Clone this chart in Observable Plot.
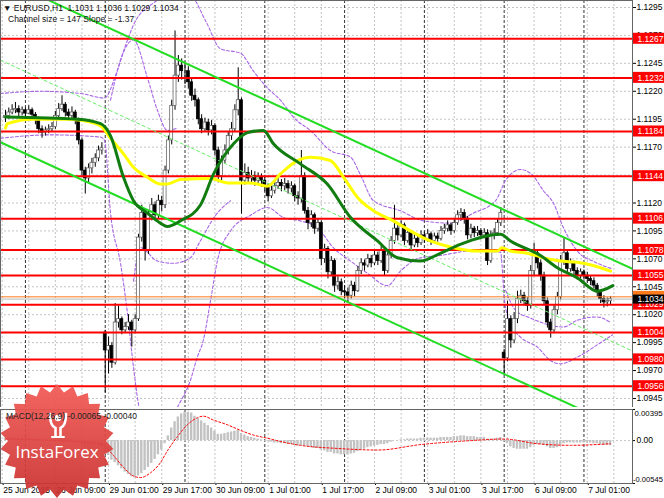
<!DOCTYPE html>
<html><head><meta charset="utf-8">
<script src="https://cdn.jsdelivr.net/npm/d3@7"></script>
<script src="https://cdn.jsdelivr.net/npm/@observablehq/plot@0.6"></script>
<style>
body{margin:0;background:#fff;}
#wrap{position:relative;width:664px;height:498px;overflow:hidden;font-family:"Liberation Sans",Arial,sans-serif;background:#fff;}
#price{position:absolute;left:0;top:0}
#macd{position:absolute;left:0;top:407px}
.hdr{position:absolute;font-size:8.5px;color:#111;white-space:pre;}
</style></head><body><div id="wrap"><div id="price"></div><div id="macd"></div>
<div class="hdr" style="left:3px;top:3px">▼ EURUSD,H1  1.1031 1.1036 1.1029 1.1034</div>
<div class="hdr" style="left:8px;top:14px">Channel size = 147 Slope = -1.37</div>
</div>
<script>
// ---------- DATA ----------
const closes = [
1.1198,1.1201,1.1203,1.1204,1.1201,1.1203,1.1200,1.1203,1.1199,1.1195,
1.1186,1.1183,1.1185,1.1186,1.1188,1.1198,1.1204,1.1208,1.1201,1.1198,
1.1201,1.1194,1.1176,1.1149,1.1142,1.1151,1.1156,1.1160,1.1167,1.1169,
1.0988,1.0992,1.0977,1.1013,1.1016,1.1006,1.1009,1.1013,1.1006,1.1016,
1.1089,1.1111,1.1077,1.1109,1.1118,1.1109,1.1122,1.1118,1.1149,1.1176,
1.1207,1.1234,1.1243,1.1238,1.1238,1.1228,1.1216,1.1212,1.1195,1.1186,
1.1192,1.1185,1.1189,1.1167,1.1144,1.1158,1.1167,1.1180,1.1186,1.1203,
1.1212,1.1140,1.1147,1.1142,1.1144,1.1140,1.1143,1.1140,1.1135,1.1126,
1.1131,1.1135,1.1138,1.1135,1.1137,1.1133,1.1135,1.1126,1.1124,1.1144,
1.1113,1.1102,1.1109,1.1097,1.1102,1.1070,1.1079,1.1058,1.1068,1.1046,
1.1049,1.1041,1.1040,1.1037,1.1046,1.1041,1.1059,1.1066,1.1064,1.1070,
1.1066,1.1073,1.1068,1.1077,1.1059,1.1073,1.1086,1.1097,1.1091,1.1100,
1.1086,1.1093,1.1082,1.1088,1.1084,1.1091,1.1088,1.1092,1.1086,1.1090,
1.1088,1.1095,1.1097,1.1100,1.1095,1.1102,1.1109,1.1111,1.1106,1.1091,
1.1097,1.1093,1.1095,1.1091,1.1093,1.1068,1.1091,1.1093,1.1102,1.1111,
1.0981,1.1016,1.0997,1.1016,1.1034,1.1037,1.1032,1.1028,1.1059,1.1075,
1.1066,1.1055,1.1032,1.1013,1.1006,1.1024,1.1036,1.1068,1.1075,1.1061,
1.1066,1.1059,1.1055,1.1058,1.1055,1.1052,1.1050,1.1046,1.1040,1.1034,
1.1031,1.1032,1.1034];
const highs = [
1.1203,1.1205,1.1208,1.1210,1.1207,1.1206,1.1205,1.1207,1.1205,1.1201,
1.1197,1.1189,1.1188,1.1190,1.1192,1.1202,1.1209,1.1216,1.1210,1.1204,
1.1206,1.1203,1.1196,1.1178,1.1152,1.1155,1.1160,1.1164,1.1171,1.1174,
1.1006,1.1000,1.0995,1.1030,1.1028,1.1018,1.1013,1.1020,1.1015,1.1020,
1.1092,1.1118,1.1112,1.1113,1.1124,1.1121,1.1127,1.1126,1.1153,1.1180,
1.1212,1.1274,1.1252,1.1249,1.1246,1.1242,1.1231,1.1222,1.1214,1.1199,
1.1196,1.1195,1.1194,1.1191,1.1170,1.1162,1.1172,1.1184,1.1192,1.1208,
1.1241,1.1214,1.1155,1.1152,1.1149,1.1148,1.1147,1.1146,1.1143,1.1137,
1.1135,1.1139,1.1143,1.1141,1.1142,1.1140,1.1139,1.1137,1.1130,1.1167,
1.1147,1.1116,1.1113,1.1111,1.1106,1.1104,1.1083,1.1081,1.1072,1.1070,
1.1054,1.1052,1.1046,1.1044,1.1050,1.1049,1.1063,1.1070,1.1069,1.1074,
1.1073,1.1077,1.1076,1.1081,1.1080,1.1076,1.1090,1.1118,1.1100,1.1104,
1.1102,1.1097,1.1095,1.1092,1.1090,1.1095,1.1094,1.1096,1.1094,1.1093,
1.1093,1.1099,1.1101,1.1104,1.1102,1.1106,1.1113,1.1115,1.1114,1.1108,
1.1101,1.1099,1.1099,1.1097,1.1097,1.1096,1.1095,1.1097,1.1106,1.1116,
1.0989,1.1032,1.1019,1.1022,1.1041,1.1042,1.1040,1.1035,1.1064,1.1084,
1.1078,1.1069,1.1058,1.1035,1.1016,1.1028,1.1040,1.1073,1.1089,1.1078,
1.1070,1.1068,1.1062,1.1061,1.1060,1.1058,1.1055,1.1053,1.1048,1.1042,
1.1037,1.1035,1.1036];
const lows = [
1.1192,1.1195,1.1199,1.1200,1.1197,1.1198,1.1196,1.1199,1.1195,1.1190,
1.1182,1.1178,1.1180,1.1182,1.1184,1.1186,1.1196,1.1202,1.1197,1.1194,
1.1195,1.1190,1.1172,1.1144,1.1128,1.1138,1.1146,1.1152,1.1157,1.1163,
1.0950,1.0967,1.0972,1.0975,1.1008,1.1002,1.1003,1.1006,1.0991,1.1003,
1.1014,1.1085,1.1068,1.1074,1.1104,1.1104,1.1106,1.1112,1.1115,1.1146,
1.1172,1.1203,1.1228,1.1230,1.1226,1.1222,1.1211,1.1206,1.1190,1.1182,
1.1183,1.1180,1.1181,1.1162,1.1138,1.1140,1.1155,1.1163,1.1176,1.1183,
1.1198,1.1110,1.1136,1.1137,1.1138,1.1135,1.1136,1.1134,1.1130,1.1121,
1.1124,1.1128,1.1132,1.1130,1.1131,1.1128,1.1129,1.1121,1.1118,1.1120,
1.1110,1.1096,1.1098,1.1092,1.1094,1.1064,1.1066,1.1052,1.1055,1.1040,
1.1042,1.1037,1.1034,1.1030,1.1034,1.1036,1.1040,1.1056,1.1059,1.1062,
1.1062,1.1064,1.1064,1.1066,1.1055,1.1057,1.1070,1.1083,1.1086,1.1089,
1.1082,1.1084,1.1078,1.1080,1.1080,1.1082,1.1084,1.1085,1.1082,1.1084,
1.1085,1.1086,1.1092,1.1094,1.1091,1.1093,1.1100,1.1104,1.1101,1.1087,
1.1088,1.1089,1.1090,1.1087,1.1088,1.1064,1.1066,1.1087,1.1090,1.1099,
1.0966,1.0978,1.0990,1.0994,1.1012,1.1030,1.1028,1.1023,1.1025,1.1055,
1.1061,1.1050,1.1028,1.1008,1.0999,1.1003,1.1020,1.1033,1.1064,1.1057,
1.1058,1.1055,1.1051,1.1052,1.1051,1.1048,1.1046,1.1043,1.1036,1.1030,
1.1026,1.1027,1.1029];
const firstOpen = 1.1196;
const gapBars = [30, 150];          // Monday opens (29 Jun, 6 Jul)
const gapOpens = [1.1004, 1.0986];

// moving averages: [bar, price]
const greenMA = [[0,1.1197],[21.7,1.1195],[28.6,1.1191],[31.6,1.1180],[35.5,1.1143],[38.5,1.1122],[42.7,1.1111],[46.6,1.1102],[48.7,1.1099],[52.6,1.1104],[58.6,1.1118],[62.6,1.1146],[68.6,1.1173],[72.8,1.1183],[77.6,1.1185],[80.6,1.1173],[88.7,1.1155],[96.8,1.1137],[103.8,1.1107],[111.9,1.1086],[117.9,1.1071],[124.8,1.1068],[130.8,1.1075],[136.8,1.1083],[148.9,1.1092],[151.9,1.1086],[160.9,1.1073],[166,1.1062],[172,1.1053],[178,1.1041],[182.7,1.1046]];
const yellowMA = [[0,1.1187],[0.6,1.1191],[8.4,1.1195],[18.6,1.1195],[22.6,1.1194],[28.6,1.1189],[31.6,1.1178],[35.5,1.1164],[38.5,1.1152],[42.7,1.1143],[46.6,1.1137],[48.7,1.1137],[52.6,1.1141],[61.7,1.1142],[66.8,1.1138],[73.7,1.1138],[78.8,1.1135],[82.7,1.1146],[87.8,1.1158],[91.7,1.1161],[97.7,1.1158],[101.7,1.1143],[105.9,1.1125],[110.7,1.1113],[116.7,1.1104],[121.8,1.1095],[127.8,1.1086],[134.7,1.1080],[142,1.1077],[148,1.1077],[149.3,1.1080],[151.9,1.1077],[157,1.1075],[161.8,1.1071],[166.9,1.1068],[172,1.1067],[176.8,1.1064],[182,1.1059]];
// dashed violet envelopes: [bar, price]
const bandUpper = [[-1.5,1.1218],[10.5,1.1220],[22.6,1.1218],[29.8,1.1214],[33.1,1.1234],[36.1,1.1261],[39.1,1.1283],[43.6,1.1297],[49.6,1.1305],[55.6,1.1305],[60.2,1.1283],[64.7,1.1258],[70.7,1.1254],[74.6,1.1238],[78.8,1.1223],[82.7,1.1212],[87.2,1.1195],[91.7,1.1185],[97.7,1.1167],[103.8,1.1161],[106.8,1.1145],[110.7,1.1122],[118.8,1.1113],[125.7,1.1104],[133.8,1.1102],[140.8,1.1111],[147.4,1.1122],[150.4,1.1140],[154.9,1.1150],[158.5,1.1145],[161.8,1.1131],[164.8,1.1120],[167.8,1.1098],[172,1.1077],[177.4,1.1067],[182.6,1.1061]];
const bandLower = [[-1.5,1.1178],[13.5,1.1181],[28.6,1.1179],[29.8,1.1176],[31.6,1.1111],[34.6,1.1066],[36.7,1.1021],[38.5,1.0973],[40.6,1.0932],[46.6,1.0907],[51.7,1.0937],[55.6,1.0961],[57.7,1.0982],[59.5,1.0997],[61.7,1.1033],[63.8,1.1069],[67.7,1.1095],[73.7,1.1109],[78.8,1.1116],[83.6,1.1107],[88.7,1.1104],[93.8,1.1098],[98.6,1.1080],[103.8,1.1068],[108.9,1.1057],[114.9,1.1046],[118.8,1.1059],[124.8,1.1071],[130.8,1.1073],[139.8,1.1077],[148.9,1.1076],[150.1,1.1033],[151.9,1.1012],[154.9,1.1000],[160,1.0991],[163.9,1.0979],[166.9,1.0976],[172,1.0982],[178,1.0993],[182.6,1.1002]];
const band2Upper = [[31.6,1.1212],[34.6,1.1248],[38.5,1.1266],[42.7,1.1232],[45.7,1.1203],[48.7,1.1185],[51.7,1.1187]];
const band2Lower = [[38.5,1.1050],[40.6,1.1080],[45.7,1.1068],[50.5,1.1066],[55.6,1.1071],[58.6,1.1086],[63.2,1.1109],[67.7,1.1122]];
const band3Lower = [[150.4,1.1042],[153.4,1.1024],[157.9,1.1017],[167.8,1.1009],[172,1.1015],[178,1.1018],[182,1.1013]];

// regression channel: upper line anchored at last bar, slope per bar, size
const channelAnchorBar = 182, channelAnchorPrice = 1.1070, channelSlope = -0.000137, channelSize = 0.0147;

const levels = [1.1267,1.1232,1.1184,1.1144,1.1106,1.1078,1.1055,1.1029,1.1004,1.0980,1.0956];
const priceTicks = [1.1295,1.1270,1.1245,1.1220,1.1195,1.1170,1.1145,1.1120,1.1095,1.1070,1.1045,1.1020,1.0995,1.0970,1.0945];
const bidPrice = 1.1034, askPrice = 1.1036;

const xLabels = ["25 Jun 2015","26 Jun 09:00","29 Jun 01:00","29 Jun 17:00","30 Jun 09:00","1 Jul 01:00","1 Jul 17:00","2 Jul 09:00","3 Jul 01:00","3 Jul 17:00","6 Jul 09:00","7 Jul 01:00"];
const xLabelBars = [-1,15,31,47,63,79,95,111,127,143,159,175];
const daySepBars = [6,30,54,78,102,126,150,174];

const macdHist = [
0.0003,0.0003,0.0003,0.0003,0.0003,0.0003,0.0003,0.0003,0.0002,0.0002,
0.0001,0,-0.0001,-0.0001,-0.0001,0,0.0001,0.0002,0.0002,0.0002,
0.0002,0.0001,-0.0002,-0.0006,-0.0010,-0.0012,-0.0012,-0.0011,-0.0010,-0.0009,
-0.0014,-0.0019,-0.0025,-0.0028,-0.0032,-0.0036,-0.0040,-0.0043,-0.0046,-0.0047,
-0.0045,-0.0042,-0.0038,-0.0034,-0.0029,-0.0024,-0.0018,-0.0012,-0.0004,0.0006,
0.0016,0.0024,0.0030,0.0034,0.0036,0.0036,0.0035,0.0031,0.0028,0.0025,
0.0022,0.0019,0.0016,0.0012,0.0008,0.0008,0.0009,0.0010,0.0011,0.0012,
0.0013,0.0009,0.0007,0.0005,0.0004,0.0003,0.0002,0.0001,0,-0.0001,
-0.0002,-0.0003,-0.0003,-0.0004,-0.0004,-0.0005,-0.0005,-0.0006,-0.0007,-0.0006,
-0.0007,-0.0008,-0.0009,-0.0010,-0.0010,-0.0012,-0.0013,-0.0015,-0.0015,-0.0017,
-0.0017,-0.0018,-0.0018,-0.0018,-0.0017,-0.0016,-0.0014,-0.0012,-0.0011,-0.0009,
-0.0008,-0.0007,-0.0006,-0.0005,-0.0005,-0.0004,-0.0002,0,0,0.0001,
0.0001,0.0002,0.0002,0.0002,0.0002,0.0003,0.0003,0.0003,0.0003,0.0003,
0.0003,0.0004,0.0004,0.0004,0.0004,0.0005,0.0005,0.0006,0.0006,0.0005,
0.0005,0.0005,0.0004,0.0004,0.0004,0.0002,0.0002,0.0002,0.0003,0.0004,
-0.0001,-0.0004,-0.0008,-0.0010,-0.0011,-0.0011,-0.0011,-0.0011,-0.0009,-0.0006,
-0.0005,-0.0005,-0.0006,-0.0008,-0.0010,-0.0010,-0.0009,-0.0006,-0.0004,-0.0003,
-0.0003,-0.0003,-0.0003,-0.0003,-0.0003,-0.0003,-0.0003,-0.0004,-0.0004,-0.0005,
-0.0006,-0.0006,-0.00065];
const macdSignal = [[0,0.0002],[23.5,-0.0002],[28.6,-0.0004],[32.5,-0.0019],[35.5,-0.0034],[38.5,-0.0045],[40.6,-0.0047],[43.6,-0.0041],[46.6,-0.0028],[48.7,-0.0013],[51.7,0.0005],[54.7,0.0020],[57.7,0.0029],[59.5,0.0031],[62.6,0.0026],[66.8,0.0020],[70.7,0.0013],[74.6,0.0007],[78.8,0.0003],[83.6,-0.0002],[88.7,-0.0006],[100,-0.0010],[112,-0.0012],[125,-0.0005],[140,0],[150,0.0002],[160,-0.0004],[170,-0.0006],[182,-0.0004]];
const macdTickVals = [0.00395, 0, -0.00545];
const macdTickText = ["0.00395","0.00","-0.00545"];

// ---------- BUILD ----------
const xMin = -1.5, xMax = 188.6;
const yMin = 1.093693, yMax = 1.130127;
const ppuX = 632 / (xMax - xMin), ppuY = 407 / (yMax - yMin);
const FONT = "Liberation Sans, Arial, sans-serif";

const bars = closes.map((c, i) => {
  const g = gapBars.indexOf(i);
  const o = i === 0 ? firstOpen : (g >= 0 ? gapOpens[g] : closes[i - 1]);
  return {i, o, c, h: highs[i], l: lows[i]};
});
const gridBars = d3.range(-1, 190, 8);
const chan = off => [xMin, xMax].map(b => ({b, p: channelAnchorPrice + (b - channelAnchorBar) * channelSlope - off}));
const pairs = a => a.map(([b, p]) => ({b, p}));
const lbl = levels.map(p => ({p, t: p.toFixed(4)}));
const violet = {x: "b", y: "p", stroke: "#a866e6", strokeWidth: 1.1, strokeDasharray: "3,2", curve: "monotone-x", clip: true};

const price = Plot.plot({
  width: 664, height: 407, marginLeft: 0, marginRight: 32, marginTop: 0, marginBottom: 0,
  x: {domain: [xMin, xMax], axis: null},
  y: {domain: [yMin, yMax], axis: null},
  style: {fontFamily: FONT, fontSize: "8.5px", background: "#fff", overflow: "visible", color: "#000"},
  marks: [
    Plot.ruleY(priceTicks, {stroke: "#c4c4c4", strokeDasharray: "2,2"}),
    Plot.ruleX(gridBars, {stroke: "#c4c4c4", strokeDasharray: "2,2"}),
    Plot.ruleX(daySepBars, {stroke: "#333", strokeDasharray: "3,2"}),
    Plot.line(pairs(bandUpper), violet),
    Plot.line(pairs(bandLower), violet),
    Plot.line(pairs(band2Upper), violet),
    Plot.line(pairs(band2Lower), violet),
    Plot.line(pairs(band3Lower), violet),
    Plot.ruleX(bars, {x: "i", y1: "l", y2: "h", stroke: "#000", strokeWidth: 1}),
    Plot.rect(bars, {x1: d => d.i - 0.45, x2: d => d.i + 0.45, y1: "o", y2: "c",
      fill: d => d.c >= d.o ? "#fff" : "#000", stroke: d => d.c >= d.o ? "#555" : "#000", strokeWidth: 0.7}),
    Plot.ruleY(levels, {stroke: "#ff0000", strokeWidth: 2}),
    Plot.ruleY([bidPrice], {stroke: "#b8b8b8"}),
    Plot.ruleY([askPrice], {stroke: "#ff7b1c"}),
    Plot.line(chan(0), {x: "b", y: "p", stroke: "#22dd22", strokeWidth: 2, clip: true}),
    Plot.line(chan(channelSize / 2), {x: "b", y: "p", stroke: "#66ee66", strokeWidth: 1, strokeDasharray: "3,3", clip: true}),
    Plot.line(chan(channelSize), {x: "b", y: "p", stroke: "#22dd22", strokeWidth: 2, clip: true}),
    Plot.line(pairs(yellowMA), {x: "b", y: "p", stroke: "#ffff00", strokeWidth: 3, curve: "monotone-x"}),
    Plot.line(pairs(greenMA), {x: "b", y: "p", stroke: "#117d11", strokeWidth: 3, curve: "monotone-x"}),
    Plot.axisY({anchor: "right", ticks: priceTicks, tickFormat: d => d.toFixed(4), tickSize: 3, tickPadding: 1, fontSize: 8.5, label: null}),
    Plot.rect(lbl, {x1: xMax + 1 / ppuX, x2: xMax + 32 / ppuX, y1: d => d.p - 5.5 / ppuY, y2: d => d.p + 5.5 / ppuY, fill: "#ff0000"}),
    Plot.text(lbl, {y: "p", text: "t", frameAnchor: "right", dx: 5, textAnchor: "start", fill: "#fff", fontSize: 8.5}),
    Plot.rect([askPrice], {x1: xMax + 1 / ppuX, x2: xMax + 32 / ppuX, y1: d => d - 5.5 / ppuY, y2: d => d + 5.5 / ppuY, fill: "#ff7b1c"}),
    Plot.rect([bidPrice], {x1: xMax + 1 / ppuX, x2: xMax + 32 / ppuX, y1: d => d - 5 / ppuY, y2: d => d + 4 / ppuY, fill: "#000"}),
    Plot.text([bidPrice], {y: d => d, text: d => d.toFixed(4), frameAnchor: "right", dx: 5, textAnchor: "start", fill: "#fff", fontSize: 8.5}),
    Plot.frame({stroke: "#666"})
  ]
});
document.getElementById("price").appendChild(price);

const hist = macdHist.map((v, i) => ({i, v}));
const sig = macdSignal.map(([b, v]) => ({b, v}));
const mt = macdTickVals.map((v, k) => ({v, t: macdTickText[k]}));
const macd = Plot.plot({
  width: 664, height: 91, marginLeft: 0, marginRight: 32, marginTop: 2, marginBottom: 15,
  x: {domain: [xMin, xMax]},
  y: {domain: [-0.00545, 0.00395], axis: null},
  style: {fontFamily: FONT, fontSize: "8.5px", background: "#fff", overflow: "visible", color: "#000"},
  marks: [
    Plot.ruleX(gridBars, {stroke: "#c4c4c4", strokeDasharray: "2,2"}),
    Plot.ruleX(daySepBars, {stroke: "#333", strokeDasharray: "3,2"}),
    Plot.ruleY([0], {stroke: "#c4c4c4", strokeDasharray: "2,2"}),
    Plot.rect(hist, {x1: d => d.i - 0.36, x2: d => d.i + 0.36, y1: 0, y2: "v", fill: "#c2c2c2"}),
    Plot.line(sig, {x: "b", y: "v", stroke: "#ff0000", strokeWidth: 1, strokeDasharray: "2,2", curve: "monotone-x"}),
    Plot.axisX({ticks: xLabelBars, tickFormat: d => xLabels[xLabelBars.indexOf(d)], textAnchor: "start", tickSize: 2, tickPadding: 1, dx: 1, fontSize: 8.5, label: null}),
    Plot.ruleY(mt, {y: "v", x1: xMax, x2: xMax + 3 / ppuX, stroke: "#000"}),
    Plot.text(mt.slice(0, 1), {y: "v", text: "t", frameAnchor: "right", dx: 2, dy: 4, textAnchor: "start", fontSize: 7.8}),
    Plot.text(mt.slice(1, 2), {y: "v", text: "t", frameAnchor: "right", dx: 4, textAnchor: "start", fontSize: 8.5}),
    Plot.text(mt.slice(2, 3), {y: "v", text: "t", frameAnchor: "right", dx: 0.5, dy: -4, textAnchor: "start", fontSize: 7.6}),
    Plot.frame({stroke: "#666"})
  ]
});
document.getElementById("macd").appendChild(macd);

// ---------- InstaForex badge + MACD caption overlay ----------
const svg = d3.select("#wrap").append("svg").attr("width", 664).attr("height", 498)
  .style("position", "absolute").style("left", 0).style("top", 0).style("pointer-events", "none");
const defs = svg.append("defs");
const gr = defs.append("linearGradient").attr("id", "lg").attr("x1", 0).attr("y1", 0).attr("x2", 0).attr("y2", 1);
gr.append("stop").attr("offset", "0%").attr("stop-color", "#f25a55");
gr.append("stop").attr("offset", "100%").attr("stop-color", "#c8302e");
const cx = 57, cy = 441, R = 57, r = 49, n = 22;
const pts = d3.range(2 * n).map(k => {
  const a = -Math.PI / 2 + k * Math.PI / n, rr = k % 2 ? r : R;
  return [cx + rr * Math.cos(a), cy + rr * Math.sin(a)];
});
svg.append("polygon").attr("points", pts.map(p => p.join(",")).join(" ")).attr("fill", "url(#lg)").attr("opacity", 0.93);
const ic = svg.append("g").attr("fill", "none").attr("stroke", "#fff").attr("stroke-linecap", "round");
ic.append("circle").attr("cx", 58).attr("cy", 418).attr("r", 3.2).attr("fill", "#fff").attr("stroke", "none");
ic.append("path").attr("d", "M50,414 Q50,426 55.5,428 L55.5,436 M66,414 Q66,426 60.5,428 L60.5,436").attr("stroke-width", 2.6);
ic.append("path").attr("d", "M52,437 L64,437").attr("stroke-width", 2);
svg.append("text").attr("x", 57).attr("y", 458).attr("text-anchor", "middle").attr("fill", "#fff")
  .attr("font-family", "Open Sans, Roboto, sans-serif").attr("font-size", 17).text("InstaForex");
svg.append("text").attr("x", 6).attr("y", 419).attr("fill", "#222").attr("font-family", FONT).attr("font-size", 8.5)
  .text("MACD(12,26,9) -0.00065 -0.00040");
</script></body></html>
